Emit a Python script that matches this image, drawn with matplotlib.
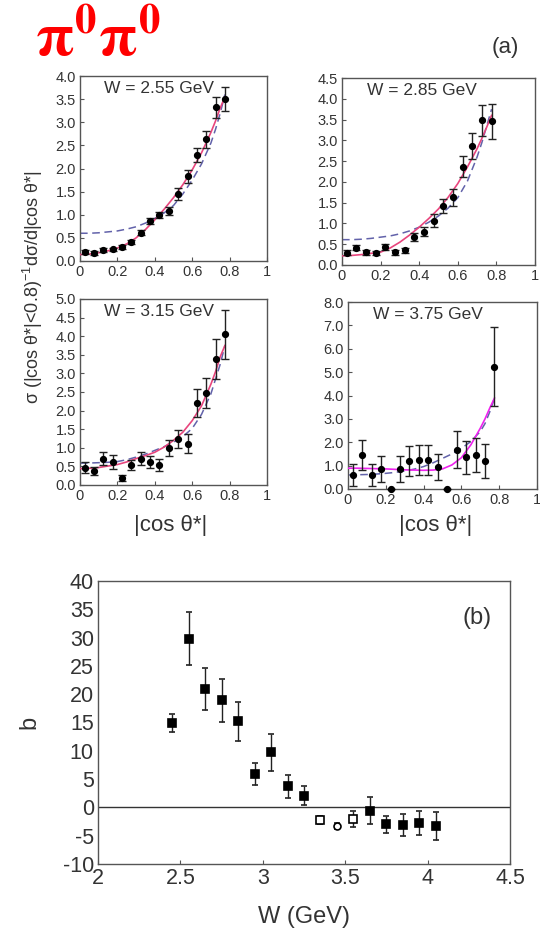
import numpy as np
import matplotlib
matplotlib.use("Agg")
import matplotlib.pyplot as plt

plt.rcParams['font.family'] = ['Liberation Sans', 'DejaVu Sans']
plt.rcParams['mathtext.fontset'] = 'custom'
plt.rcParams['mathtext.rm'] = 'Liberation Sans'
plt.rcParams['mathtext.it'] = 'Liberation Sans:italic'
plt.rcParams['axes.unicode_minus'] = False

# ---- angular distributions, |cos theta*| bins ----
cos_bins = [0.025, 0.075, 0.125, 0.175, 0.225, 0.275, 0.325, 0.375,
            0.425, 0.475, 0.525, 0.575, 0.625, 0.675, 0.725, 0.775]

w_labels = ["W = 2.55 GeV", "W = 2.85 GeV", "W = 3.15 GeV", "W = 3.75 GeV"]

y_255 = [0.20, 0.18, 0.24, 0.25, 0.30, 0.41, 0.61, 0.86, 1.00, 1.08, 1.44, 1.83, 2.30, 2.63, 3.32, 3.51]
e_255 = [0.04, 0.04, 0.04, 0.04, 0.04, 0.05, 0.05, 0.06, 0.06, 0.08, 0.13, 0.14, 0.15, 0.19, 0.23, 0.26]

y_285 = [0.30, 0.42, 0.31, 0.29, 0.44, 0.31, 0.35, 0.67, 0.80, 1.07, 1.42, 1.63, 2.37, 2.86, 3.48, 3.46]
e_285 = [0.06, 0.07, 0.06, 0.05, 0.07, 0.06, 0.06, 0.10, 0.11, 0.15, 0.16, 0.20, 0.25, 0.31, 0.37, 0.42]

y_315 = [0.46, 0.375, 0.71, 0.62, 0.19, 0.54, 0.71, 0.62, 0.54, 1.00, 1.24, 1.11, 2.21, 2.47, 3.38, 4.05]
e_315 = [0.15, 0.11, 0.18, 0.18, 0.08, 0.14, 0.18, 0.17, 0.16, 0.22, 0.24, 0.26, 0.37, 0.40, 0.54, 0.66]

y_375 = [0.60, 1.46, 0.60, 0.86, 0.0, 0.86, 1.20, 1.26, 1.26, 0.93, 0.0, 1.67, 1.36, 1.46, 1.21, 5.24]
e_375 = [0.46, 0.64, 0.46, 0.54, 0.0, 0.54, 0.66, 0.64, 0.64, 0.56, 0.0, 0.79, 0.71, 0.74, 0.72, 1.70]

# fitted curve (solid) and reference curve (dashed) sampled on this grid
curve_x = [0, 0.05, 0.1, 0.15, 0.2, 0.25, 0.3, 0.35, 0.4, 0.45,
           0.5, 0.55, 0.6, 0.65, 0.7, 0.725, 0.75, 0.775]

fit_255 = [0.14, 0.15, 0.18, 0.22, 0.28, 0.37, 0.50, 0.68, 0.89, 1.12,
           1.37, 1.65, 1.97, 2.34, 2.78, 3.03, 3.31, 3.55]
ref_255 = [0.60, 0.60, 0.61, 0.63, 0.65, 0.69, 0.74, 0.82, 0.92, 1.04,
           1.20, 1.45, 1.75, 2.10, 2.55, 2.85, 3.20, 3.60]

fit_285 = [0.22, 0.23, 0.25, 0.28, 0.31, 0.41, 0.55, 0.72, 0.91, 1.12,
           1.35, 1.63, 1.96, 2.36, 2.80, 3.05, 3.32, 3.60]
ref_285 = [0.61, 0.61, 0.62, 0.64, 0.67, 0.70, 0.75, 0.82, 0.91, 1.03,
           1.18, 1.37, 1.62, 2.02, 2.60, 2.95, 3.35, 3.75]

fit_315 = [0.44, 0.45, 0.47, 0.51, 0.55, 0.62, 0.71, 0.79, 0.88, 1.02,
           1.20, 1.42, 1.73, 2.13, 2.71, 3.05, 3.45, 3.75]
ref_315 = [0.59, 0.59, 0.60, 0.61, 0.63, 0.68, 0.75, 0.83, 0.93, 1.03,
           1.15, 1.30, 1.52, 1.90, 2.45, 2.85, 3.25, 3.75]

fit_375 = [0.89, 0.89, 0.88, 0.87, 0.86, 0.84, 0.82, 0.81, 0.80, 0.81,
           0.86, 1.03, 1.34, 1.89, 2.60, 3.00, 3.46, 3.89]
ref_375 = [0.60, 0.61, 0.62, 0.64, 0.67, 0.71, 0.77, 0.85, 0.96, 1.12,
           1.31, 1.50, 1.74, 2.03, 2.46, 2.80, 3.30, 3.89]

# ---- slope parameter b versus W ----
w_vals = [2.45, 2.55, 2.65, 2.75, 2.85, 2.95, 3.05, 3.15, 3.25,
          3.35, 3.45, 3.55, 3.65, 3.75, 3.85, 3.95, 4.05]
b_vals = [14.9, 29.8, 20.9, 18.9, 15.2, 5.9, 9.7, 3.7, 2.1,
          -2.2, -3.3, -2.0, -0.6, -3.0, -3.1, -2.8, -3.3]
b_errs = [1.65, 4.65, 3.65, 3.8, 3.4, 2.0, 3.3, 2.0, 1.7,
          0.65, 0.6, 1.4, 2.4, 1.5, 1.9, 2.1, 2.4]
b_open = [False] * 9 + [True, True, True] + [False] * 5
b_shape = ['s'] * 10 + ['o'] + ['s'] * 6

FW, FH = 540, 935
fig = plt.figure(figsize=(FW / 100, FH / 100), dpi=100)


def px_axes(left, top, right, bottom):
    return fig.add_axes([left / FW, 1 - bottom / FH, (right - left) / FW, (bottom - top) / FH])


SPINE = '#555555'
TXT = '#333333'
FIT_C = ['#e8457d', '#e8457d', '#e8457d', '#ee22ee']
REF_C = '#6262aa'


def style(ax, fs):
    for s in ax.spines.values():
        s.set_color(SPINE)
        s.set_linewidth(1.0)
    ax.tick_params(direction='in', length=3, width=0.8, colors=SPINE,
                   labelcolor=TXT, labelsize=fs, pad=3)


panels = [
    ((80, 76, 267, 261), y_255, e_255, fit_255, ref_255, 4.0, 0.5, "%.1f"),
    ((342, 78, 535, 265), y_285, e_285, fit_285, ref_285, 4.5, 0.5, "%.1f"),
    ((80, 299, 267, 485), y_315, e_315, fit_315, ref_315, 5.0, 0.5, "%.1f"),
    ((348, 302, 537, 489), y_375, e_375, fit_375, ref_375, 8.0, 1.0, "%.1f"),
]

for i, (box, yv, ev, fit, ref, ymax, ystep, fmt) in enumerate(panels):
    ax = px_axes(*box)
    style(ax, 10.5)
    ax.plot(curve_x, ref, color=REF_C, lw=1.1, ls=(0, (5, 3)), zorder=2)
    ax.plot(curve_x, fit, color=FIT_C[i], lw=1.2, zorder=3)
    ax.errorbar(cos_bins, yv, yerr=ev, fmt='o', ms=4.2, color='black',
                ecolor='#222222', elinewidth=1.0, capsize=3, capthick=1.0,
                zorder=4, clip_on=False)
    ax.set_xlim(0, 1)
    ax.set_ylim(0, ymax)
    ax.set_xticks([0, 0.2, 0.4, 0.6, 0.8, 1.0])
    ax.set_xticklabels(["0", "0.2", "0.4", "0.6", "0.8", "1"])
    yt = np.arange(0, ymax + 1e-9, ystep)
    ax.set_yticks(yt)
    ax.set_yticklabels([fmt % t for t in yt])
    ax.text(0.13, 0.935, w_labels[i], transform=ax.transAxes, fontsize=12.5,
            color=TXT, ha='left', va='center')

# shared axis titles for the angular panels
fig.text(171 / FW, 1 - 525 / FH, "|cos θ*|", fontsize=16, color=TXT,
         ha='center', va='center')
fig.text(436 / FW, 1 - 525 / FH, "|cos θ*|", fontsize=16, color=TXT,
         ha='center', va='center')
fig.text(33 / FW, 1 - 287 / FH, "σ (|cos θ*|<0.8)$^{-1}$dσ/d|cos θ*|",
         rotation=90, ha='center', va='center', fontsize=13, color=TXT)
fig.text(505 / FW, 1 - 48 / FH, "(a)", fontsize=16, color=TXT, ha='center', va='center')

# title
fig.text(35 / FW, 1 - 57 / FH, r"$\mathbf{\pi^0\pi^0}$", fontsize=44, color='#ff0000',
         ha='left', va='baseline', math_fontfamily='stix')

# ---- panel (b) ----
axb = px_axes(98, 581, 510, 864)
style(axb, 15.5)
axb.axhline(0, color='#333333', lw=1.0, zorder=1)
for w, b, e, op, mk in zip(w_vals, b_vals, b_errs, b_open, b_shape):
    axb.errorbar([w], [b], yerr=[e], fmt=mk, ms=5.5 if mk == 's' else 5,
                 mfc='white' if op else 'black', mec='black', mew=1.2,
                 ecolor='#222222', elinewidth=1.0, capsize=2.2, capthick=1.0,
                 zorder=3)
axb.set_xlim(2, 4.5)
axb.set_ylim(-10, 40)
axb.set_xticks([2, 2.5, 3, 3.5, 4, 4.5])
axb.set_xticklabels(["2", "2.5", "3", "3.5", "4", "4.5"])
axb.set_yticks(np.arange(-10, 41, 5))
axb.tick_params(axis='y', length=0)
axb.set_xlabel("W (GeV)", fontsize=17, color=TXT, labelpad=12)
axb.set_ylabel("b", fontsize=17, color=TXT, labelpad=16)
axb.text(0.955, 0.87, "(b)", transform=axb.transAxes, fontsize=17, color=TXT,
         ha='right', va='center')

fig.savefig("out.png", dpi=100)
